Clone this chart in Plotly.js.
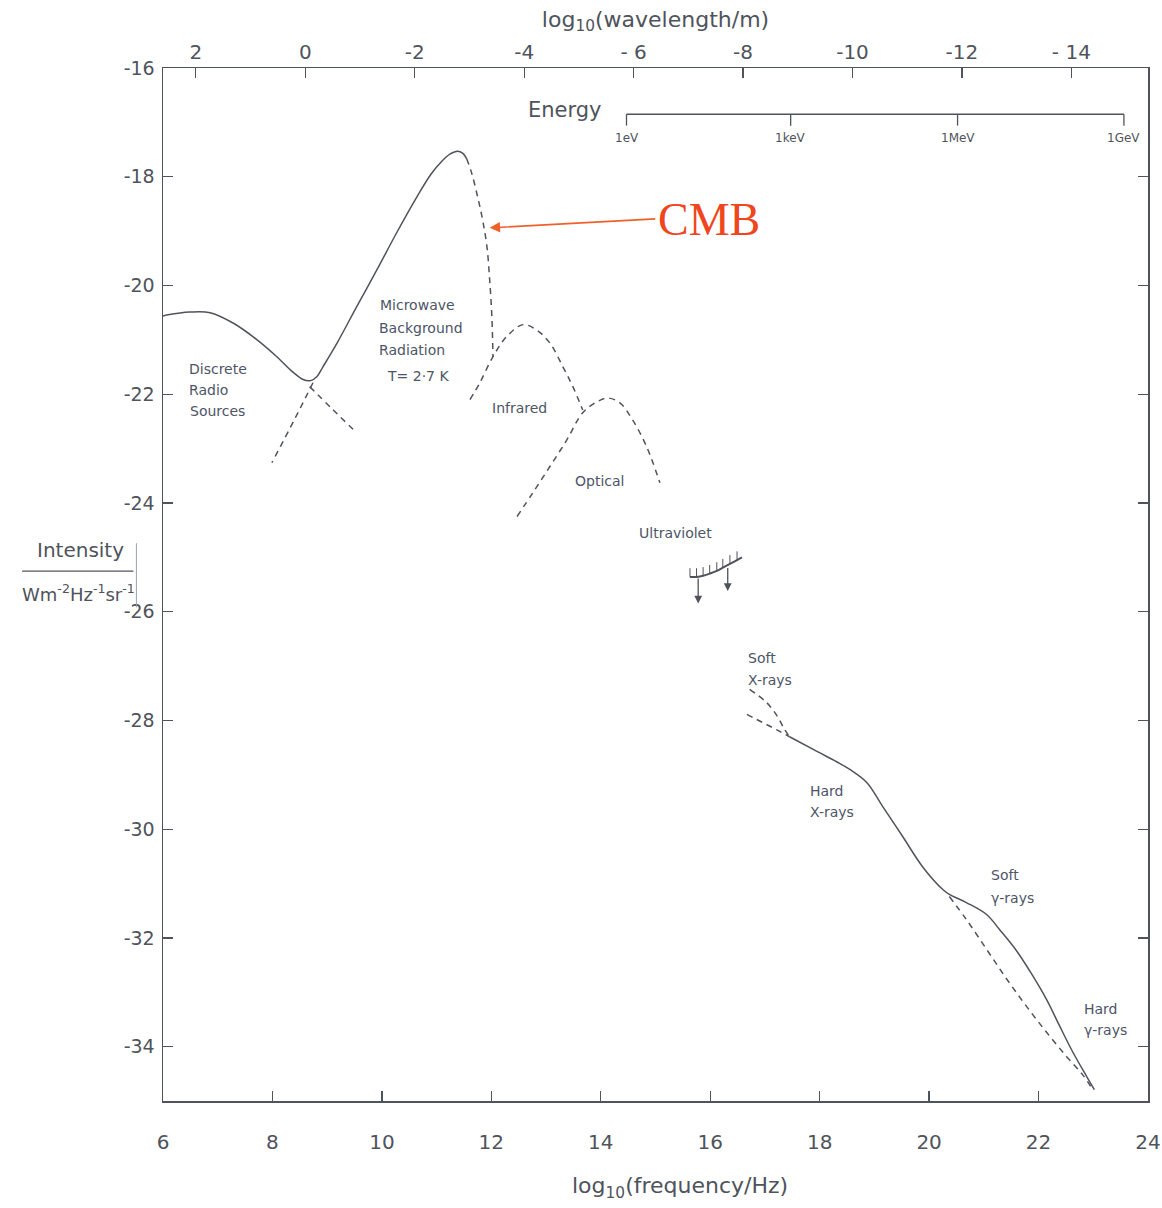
<!DOCTYPE html>
<html>
<head>
<meta charset="utf-8">
<script src="https://cdn.plot.ly/plotly-3.0.1.min.js"></script>
<style>
  html, body { margin: 0; padding: 0; background: #ffffff; }
  #chart { width: 1162px; height: 1208px; }
</style>
</head>
<body>
<div id="chart"></div>
<script>
// Cosmic background radiation spectrum: log10 intensity vs log10 frequency.

// ---- axis ticks ----
const freqTicks = [6, 8, 10, 12, 14, 16, 18, 20, 22, 24];
const freqTickText = ['6', '8', '10', '12', '14', '16', '18', '20', '22', '24'];
const intensityTicks = [-16, -18, -20, -22, -24, -26, -28, -30, -32, -34];
const intensityTickText = ['-16', '-18', '-20', '-22', '-24', '-26', '-28', '-30', '-32', '-34'];
const wavelengthTicks = [2, 0, -2, -4, -6, -8, -10, -12, -14];
const wavelengthTickText = ['2', '0', '-2', '-4', '- 6', '-8', '-10', '-12', '- 14'];
// log10(wavelength) = wavelengthOffset - log10(frequency) on this scale
const wavelengthOffset = 8.6;

// energy scale (position on the frequency axis)
const energyLabels = ['1eV', '1keV', '1MeV', '1GeV'];
const energyFreq = [14.47, 17.47, 20.52, 23.56];

// ---- spectrum components (log10 Hz, log10 W m^-2 Hz^-1 sr^-1) ----
// discrete radio sources (solid) and their continuation (dashed)
const radioX = [6.0, 6.09, 6.49, 6.86, 7.28, 7.72, 8.08, 8.37, 8.56];
const radioY = [-20.56, -20.54, -20.49, -20.50, -20.69, -21.00, -21.31, -21.59, -21.73];
const radioTailX = [8.68, 9.10, 9.54];
const radioTailY = [-21.86, -22.28, -22.71];

// microwave background, T = 2.7 K
const cmbX = [8.70, 8.81, 8.92, 9.18, 9.54, 9.91, 10.27, 10.64, 10.90, 11.10, 11.25, 11.38, 11.48, 11.55];
const cmbY = [-21.75, -21.68, -21.50, -21.06, -20.39, -19.71, -19.03, -18.37, -17.95, -17.71, -17.58, -17.53, -17.57, -17.67];
const cmbWienX = [11.55, 11.64, 11.75, 11.84, 11.92, 11.97, 12.01, 12.03];
const cmbWienY = [-17.67, -17.93, -18.37, -18.79, -19.29, -19.90, -20.58, -21.31];
const cmbRJX = [8.74, 8.40, 7.99];
const cmbRJY = [-21.79, -22.47, -23.26];

// infrared
const irX = [11.61, 11.79, 12.03, 12.28, 12.58, 12.83, 13.07, 13.31, 13.49, 13.67];
const irY = [-22.10, -21.79, -21.31, -20.94, -20.72, -20.82, -21.06, -21.50, -21.86, -22.29];

// optical
const optX = [12.47, 12.76, 13.07, 13.38, 13.67, 13.93, 14.13, 14.35, 14.58, 14.84, 15.08];
const optY = [-24.25, -23.81, -23.33, -22.84, -22.34, -22.14, -22.07, -22.16, -22.47, -22.97, -23.63];

// ultraviolet upper limit
const uvX = [15.63, 15.75, 15.87, 15.99, 16.12, 16.23, 16.36, 16.49, 16.58];
const uvY = [-25.36, -25.36, -25.34, -25.30, -25.25, -25.19, -25.12, -25.05, -25.00];
const uvArrowX = [15.78, 16.32];
const uvArrowTop = [-25.36, -25.17];
const uvArrowTip = [-25.85, -25.62];

// soft X-rays (two estimates, dashed)
const softXUpperX = [16.72, 17.03, 17.23, 17.36, 17.45];
const softXUpperY = [-27.43, -27.67, -27.93, -28.17, -28.30];
const softXLowerX = [16.67, 16.96, 17.21, 17.45];
const softXLowerY = [-27.89, -28.04, -28.17, -28.30];

// hard X-rays through gamma rays (solid)
const highX = [17.45, 17.95, 18.31, 18.55, 18.86, 19.15, 19.52, 19.88, 20.25, 20.37, 20.68, 21.05, 21.29, 21.60, 21.89, 22.15, 22.38, 22.62, 22.88, 23.02];
const highY = [-28.30, -28.57, -28.76, -28.90, -29.14, -29.58, -30.14, -30.69, -31.11, -31.20, -31.35, -31.57, -31.85, -32.24, -32.69, -33.14, -33.61, -34.09, -34.55, -34.79];
// gamma-ray alternative (dashed)
const gammaDashX = [20.37, 20.68, 21.05, 21.42, 21.78, 22.15, 22.51, 22.80, 22.99];
const gammaDashY = [-31.24, -31.66, -32.21, -32.76, -33.26, -33.74, -34.18, -34.51, -34.79];

// ---- region labels: [text, x, y] ----
const regionLabels = [
  ['Discrete', 6.44, -21.53],
  ['Radio', 6.44, -21.92],
  ['Sources', 6.46, -22.31],
  ['Microwave', 9.93, -20.36],
  ['Background', 9.91, -20.78],
  ['Radiation', 9.91, -21.18],
  ['T= 2\u00b77 K', 10.06, -21.66],
  ['Infrared', 11.97, -22.25],
  ['Optical', 13.49, -23.59],
  ['Ultraviolet', 14.66, -24.55],
  ['Soft', 16.65, -26.85],
  ['X-rays', 16.65, -27.25],
  ['Hard', 17.78, -29.29],
  ['X-rays', 17.78, -29.69],
  ['Soft', 21.10, -30.85],
  ['\u03b3-rays', 21.10, -31.26],
  ['Hard', 22.79, -33.30],
  ['\u03b3-rays', 22.79, -33.70]
];

const ink = '#4f535c';
const labelInk = '#4d5566';
const font = 'DejaVu Sans, Liberation Sans, sans-serif';

function line(x, y, dashed, width) {
  return {
    x: x, y: y, type: 'scatter', mode: 'lines',
    line: { color: ink, width: width || 1.5, dash: dashed ? '6px,5px' : 'solid', shape: 'spline', smoothing: 1 },
    hoverinfo: 'skip', showlegend: false
  };
}

// hatching above the ultraviolet limit, built from the limit curve
const hatchX = [], hatchY = [];
uvX.slice(0, 8).forEach((x, i) => {
  hatchX.push(x, x, null);
  hatchY.push(uvY[i], uvY[i] + 0.16, null);
});

const traces = [
  // radio sources flow into the microwave background as one solid curve
  line(radioX.concat(cmbX), radioY.concat(cmbY), false),
  line(radioTailX, radioTailY, true),
  line(cmbWienX, cmbWienY, true),
  line(cmbRJX, cmbRJY, true),
  line(irX, irY, true),
  line(optX, optY, true),
  line(uvX, uvY, false, 2),
  { x: hatchX, y: hatchY, type: 'scatter', mode: 'lines', line: { color: ink, width: 1 }, hoverinfo: 'skip', showlegend: false },
  line(softXUpperX, softXUpperY, true),
  line(softXLowerX, softXLowerY, true),
  line(highX, highY, false),
  line(gammaDashX, gammaDashY, true),
  // carries the wavelength axis along the top
  { x: [], y: [], xaxis: 'x2', yaxis: 'y', type: 'scatter', mode: 'lines', showlegend: false, hoverinfo: 'skip' }
];

const annotations = regionLabels.map(([t, x, y]) => ({
  text: t, x: x, y: y, xref: 'x', yref: 'y', xanchor: 'left', yanchor: 'middle',
  showarrow: false, font: { family: font, size: 14, color: labelInk }
}));

// ultraviolet limit arrows
uvArrowX.forEach((x, i) => {
  annotations.push({
    x: x, y: uvArrowTip[i], ax: x, ay: uvArrowTop[i], xref: 'x', yref: 'y', axref: 'x', ayref: 'y',
    showarrow: true, arrowhead: 2, arrowsize: 1.2, arrowwidth: 1.3, arrowcolor: ink, text: ''
  });
});

// CMB callout
annotations.push({
  x: 11.97, y: -18.94, xref: 'x', yref: 'y', ax: 167, ay: -9, axref: 'pixel', ayref: 'pixel',
  showarrow: true, arrowhead: 2, arrowsize: 1.3, arrowwidth: 1.6, arrowcolor: '#f0602a', text: ''
});
annotations.push({
  text: 'CMB', x: 15.00, y: -18.78, xref: 'x', yref: 'y', xanchor: 'left', yanchor: 'middle',
  showarrow: false, font: { family: 'Liberation Serif, Times New Roman, serif', size: 46, color: '#f0461e' }
});

// energy scale
annotations.push({
  text: 'Energy', x: 13.35, y: -16.77, xref: 'x', yref: 'y', xanchor: 'center', yanchor: 'middle',
  showarrow: false, font: { family: font, size: 21, color: ink }
});
energyLabels.forEach((t, i) => {
  annotations.push({
    text: t, x: energyFreq[i], y: -17.28, xref: 'x', yref: 'y', xanchor: 'center', yanchor: 'middle',
    showarrow: false, font: { family: font, size: 12, color: ink }
  });
});

// frequency axis title
annotations.push({
  text: 'log<sub>10</sub>(frequency/Hz)', x: 0.525, y: -0.084, xref: 'paper', yref: 'paper',
  xanchor: 'center', yanchor: 'middle', showarrow: false, font: { family: font, size: 22, color: ink }
});

// intensity axis title written as a fraction
annotations.push({
  text: 'Intensity', x: -0.084, y: 0.533, xref: 'paper', yref: 'paper', xanchor: 'center', yanchor: 'middle',
  showarrow: false, font: { family: font, size: 20, color: ink }
});
annotations.push({
  text: 'Wm<sup>-2</sup>Hz<sup>-1</sup>sr<sup>-1</sup>', x: -0.086, y: 0.492, xref: 'paper', yref: 'paper',
  xanchor: 'center', yanchor: 'middle', showarrow: false, font: { family: font, size: 18, color: ink }
});

const shapes = [
  { type: 'line', xref: 'paper', yref: 'paper', x0: -0.143, x1: -0.03, y0: 0.513, y1: 0.513, line: { color: ink, width: 1.3 } },
  { type: 'line', xref: 'paper', yref: 'paper', x0: -0.027, x1: -0.027, y0: 0.478, y1: 0.54, line: { color: '#9aa0aa', width: 1 } },
  { type: 'line', xref: 'x', yref: 'y', x0: energyFreq[0], x1: energyFreq[energyFreq.length - 1], y0: -16.85, y1: -16.85, line: { color: ink, width: 1.4 } }
];
energyFreq.forEach(x => {
  shapes.push({ type: 'line', xref: 'x', yref: 'y', x0: x, x1: x, y0: -16.85, y1: -17.06, line: { color: ink, width: 1.3 } });
});

const layout = {
  width: 1162, height: 1208,
  margin: { l: 163, r: 14, t: 68, b: 107 },
  paper_bgcolor: '#ffffff', plot_bgcolor: '#ffffff',
  font: { family: font, color: ink },
  showlegend: false,
  xaxis: {
    range: [6, 24], tickvals: freqTicks, ticktext: freqTickText,
    ticks: 'inside', ticklen: 10, tickwidth: 1.3, tickcolor: ink,
    showline: true, linecolor: ink, linewidth: 1.5, mirror: true,
    showgrid: false, zeroline: false, ticklabelstandoff: 22,
    tickfont: { family: font, size: 20, color: ink }
  },
  xaxis2: {
    overlaying: 'x', side: 'top', anchor: 'y',
    range: [wavelengthOffset - 6, wavelengthOffset - 24],
    tickvals: wavelengthTicks, ticktext: wavelengthTickText,
    ticks: 'inside', ticklen: 10, tickwidth: 1.3, tickcolor: ink,
    showline: false, showgrid: false, zeroline: false, ticklabelstandoff: 4,
    tickfont: { family: font, size: 20, color: ink },
    title: { text: 'log<sub>10</sub>(wavelength/m)', font: { family: font, size: 22, color: ink }, standoff: 6 }
  },
  yaxis: {
    range: [-35, -16], tickvals: intensityTicks, ticktext: intensityTickText,
    ticks: 'inside', ticklen: 10, tickwidth: 1.3, tickcolor: ink,
    showline: true, linecolor: ink, linewidth: 1.5, mirror: 'ticks',
    showgrid: false, zeroline: false, ticklabelstandoff: 3,
    tickfont: { family: font, size: 19, color: ink }
  },
  annotations: annotations,
  shapes: shapes
};

Plotly.newPlot('chart', traces, layout, { staticPlot: true, displayModeBar: false });
</script>
</body>
</html>
